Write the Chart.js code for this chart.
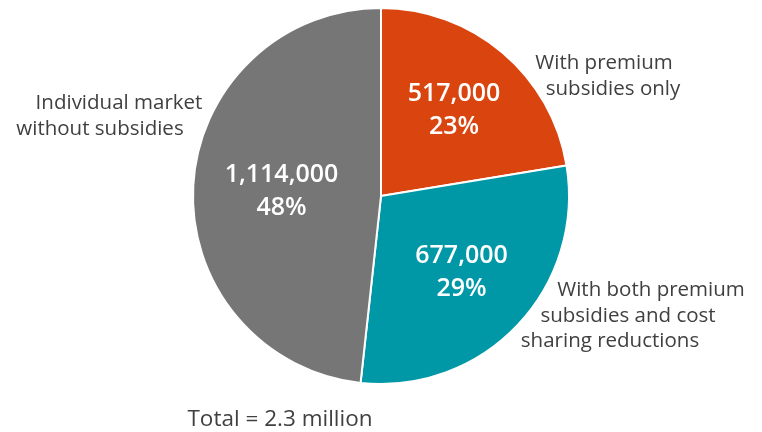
<!DOCTYPE html>
<html>
<head>
<meta charset="utf-8">
<script src="https://cdn.jsdelivr.net/npm/chart.js@4"></script>
<style>
  html, body { margin: 0; padding: 0; background: #fff; }
  #wrap { width: 762px; height: 432px; }
</style>
</head>
<body>
<div id="wrap"><canvas id="pieChart" width="762" height="432"></canvas></div>
<script>
// data
const categories = [
    ['With premium', 'subsidies only'],
    ['With both premium', 'subsidies and cost', 'sharing reductions'],
    ['Individual market', 'without subsidies']
];
const enrollees = [517000, 677000, 1114000];
const shares = ['23%', '29%', '48%'];
const totalLabel = 'Total = 2.3 million';

const sliceColors = ['#d9440f', '#0097a7', '#767676'];
const textColor = '#404040';
const fontFamily = '"Open Sans", "Noto Sans", sans-serif';

// inside label distance from centre, as a share of the radius
const insideRadius = [0.6, 0.59, 0.53];
// outside label line anchors, relative to pie centre (px)
const outsideLines = [
    [[223, -133], [232, -107]],
    [[270, 94], [247, 120], [229, 145]],
    [[-262, -93], [-281, -67]]
];

const labelPlugin = {
    id: 'sliceLabels',
    afterDatasetsDraw(chart) {
        const ctx = chart.ctx;
        const meta = chart.getDatasetMeta(0);
        ctx.save();
        ctx.textAlign = 'center';
        ctx.textBaseline = 'middle';
        meta.data.forEach((arc, i) => {
            const p = arc.getProps(['x', 'y', 'startAngle', 'endAngle', 'outerRadius'], true);
            const mid = (p.startAngle + p.endAngle) / 2;
            const r = p.outerRadius * insideRadius[i];
            const cx = p.x + Math.cos(mid) * r;
            const cy = p.y + Math.sin(mid) * r;
            ctx.fillStyle = '#ffffff';
            ctx.font = '600 25px ' + fontFamily;
            ctx.fillText(enrollees[i].toLocaleString('en-US'), cx, cy - 16);
            ctx.fillText(shares[i], cx, cy + 17);

            ctx.fillStyle = textColor;
            ctx.font = '20.5px ' + fontFamily;
            categories[i].forEach((line, j) => {
                const off = outsideLines[i][j];
                ctx.fillText(line, p.x + off[0], p.y + off[1]);
            });
            if (i === 0) {
                ctx.font = '22.5px ' + fontFamily;
                ctx.fillText(totalLabel, p.x - 101, p.y + 224);
            }
        });
        ctx.restore();
    }
};

new Chart(document.getElementById('pieChart').getContext('2d'), {
    type: 'pie',
    data: {
        labels: categories.map(c => c.join(' ')),
        datasets: [{
            data: enrollees,
            backgroundColor: sliceColors,
            borderColor: '#ffffff',
            borderWidth: 2
        }]
    },
    options: {
        responsive: false,
        animation: false,
        layout: { padding: { top: 7, bottom: 47, left: 0, right: 0 } },
        plugins: {
            legend: { display: false },
            tooltip: { enabled: false }
        }
    },
    plugins: [labelPlugin]
});
</script>
</body>
</html>
